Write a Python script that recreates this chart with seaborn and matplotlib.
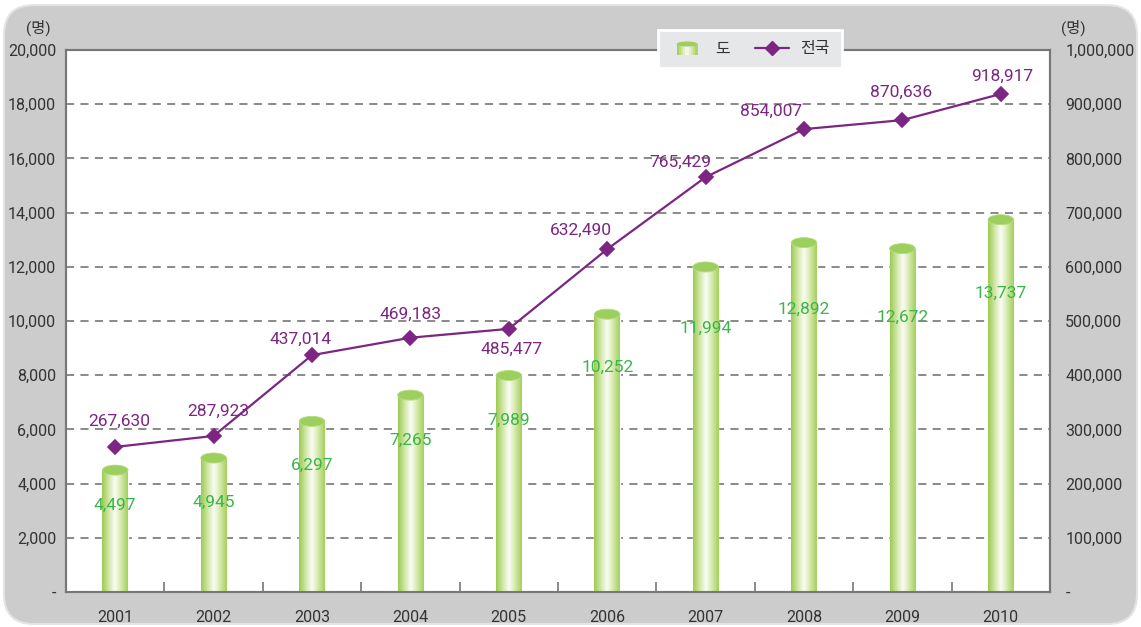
import numpy as np
import pandas as pd
import matplotlib
matplotlib.use("Agg")
import matplotlib.pyplot as plt
import seaborn as sns
from matplotlib.colors import LinearSegmentedColormap
from matplotlib.patches import Ellipse, Rectangle, FancyBboxPatch
from matplotlib.lines import Line2D
from matplotlib.legend_handler import HandlerBase
from matplotlib.ticker import FuncFormatter, MultipleLocator, FixedLocator

# data
years = ['2001', '2002', '2003', '2004', '2005', '2006', '2007', '2008', '2009', '2010']
province = [4497, 4945, 6297, 7265, 7989, 10252, 11994, 12892, 12672, 13737]
national = [267630, 287923, 437014, 469183, 485477, 632490, 765429, 854007, 870636, 918917]

# label placement (pixels)
bar_label_dy = [-35, -44, -44, -45, -45, -53, -61, -67, -69, -74]
line_label_dx = [4, 5, -11, 0, 3, -26, -25, -33, -1, 1]
line_label_dy = [26, 25, 16, 23, -20, 19, 15, 18, 28, 18]

df = pd.DataFrame({'year': years, 'province': province, 'national': national})

sns.set_style('white')
plt.rcParams['font.family'] = ['Roboto', 'Noto Sans CJK KR', 'DejaVu Sans']

green = '#3bb54a'
purple = '#7c2582'
grid_gray = '#808080'
cyl = LinearSegmentedColormap.from_list(
    'cyl', ['#9ccb52', '#cfe6a4', '#fbfdf5', '#d2e8a8', '#a5d05c'],
)
grad = np.linspace(0, 1, 64).reshape(1, -1)

fig = plt.figure(figsize=(11.41, 6.27), dpi=100, facecolor='white')

# rounded grey frame
bg = FancyBboxPatch((0.0035, 0.0048), 0.993, 0.987, transform=fig.transFigure,
                    boxstyle='round,pad=0,rounding_size=0.026',
                    mutation_aspect=1141 / 627,
                    facecolor='#cccccc', edgecolor='#e4e4e4', lw=1.5, zorder=-10)
fig.add_artist(bg)

ax = fig.add_axes([66 / 1141, 1 - 592 / 627, (1050 - 66) / 1141, (592 - 50) / 627])
ax.set_facecolor('white')
ax2 = ax.twinx()

bar_w = 0.26
sns.barplot(data=df, x='year', y='province', order=years, color='#a8d160',
            width=bar_w, ax=ax, zorder=2)

# cylinder look: gradient clipped to each bar plus an elliptic top
ell_h = 370
for p in ax.patches:
    x0, w, h = p.get_x(), p.get_width(), p.get_height()
    im = ax.imshow(grad, cmap=cyl, extent=[x0, x0 + w, 0, h], aspect='auto',
                   zorder=3, interpolation='bicubic')
    im.set_clip_path(p)
    ax.add_patch(Ellipse((x0 + w / 2, h), w, ell_h, facecolor='#9dcf5e',
                         edgecolor='#b5dc80', lw=0.6, zorder=4))

for i, v in enumerate(province):
    ax.annotate(f'{v:,}', (i, v), xytext=(0, bar_label_dy[i]),
                textcoords='offset pixels', ha='center', va='center',
                color=green, fontsize=12.5, zorder=6)

sns.pointplot(data=df, x='year', y='national', order=years, color=purple,
              markers='D', markersize=7, linewidth=1.6, ax=ax2)

for i, v in enumerate(national):
    ax2.annotate(f'{v:,}', (i, v), xytext=(line_label_dx[i], line_label_dy[i]),
                 textcoords='offset pixels', ha='center', va='center',
                 color=purple, fontsize=12.5)

fmt = FuncFormatter(lambda v, pos: '-' if v == 0 else f'{v:,.0f}')

ax.set_ylim(0, 20000)
ax2.set_ylim(0, 1000000)
ax.set_xlim(-0.5, len(years) - 0.5)
ax.yaxis.set_major_locator(MultipleLocator(2000))
ax2.yaxis.set_major_locator(MultipleLocator(100000))
ax.yaxis.set_major_formatter(fmt)
ax2.yaxis.set_major_formatter(fmt)

ax.set_xticks(range(len(years)))
ax.set_xticklabels(years)
ax.xaxis.set_minor_locator(FixedLocator(np.arange(0.5, len(years) - 1, 1.0)))
ax.tick_params(axis='x', which='major', length=0, pad=13, labelsize=11.5,
               labelcolor='#333333')
ax.tick_params(axis='x', which='minor', direction='in', length=7, width=1.3,
               color=grid_gray, bottom=True)
ax.tick_params(axis='y', length=0, pad=7, labelsize=11.5, labelcolor='#333333')
ax2.tick_params(axis='y', length=0, pad=11, labelsize=11.5, labelcolor='#333333')

ax.yaxis.grid(True, linestyle=(0, (4.5, 3.5)), color=grid_gray, lw=1.3)
ax.xaxis.grid(False)
ax2.grid(False)
ax.set_axisbelow(True)
ax.set_xlabel('')
ax.set_ylabel('')
ax2.set_xlabel('')
ax2.set_ylabel('')

for a in (ax, ax2):
    for s in a.spines.values():
        s.set_visible(True)
        s.set_color('#777777')
        s.set_linewidth(1.5)

fig.text(38 / 1141, 1 - 28 / 627, '(명)', ha='center', va='center',
         fontsize=11, color='#333333')
fig.text(1073 / 1141, 1 - 28 / 627, '(명)', ha='center', va='center',
         fontsize=11, color='#333333')


class CylinderHandler(HandlerBase):
    def create_artists(self, legend, orig_handle, xdescent, ydescent,
                       width, height, fontsize, trans):
        arts = []
        w = width * 0.62
        x0 = -xdescent + (width - w) / 2
        y0 = -ydescent - height * 0.1
        hh = height * 0.95
        n = 10
        for k in range(n):
            arts.append(Rectangle((x0 + k * w / n, y0), w / n + 0.3, hh,
                                  facecolor=cyl((k + 0.5) / n), lw=0,
                                  transform=trans))
        arts.append(Ellipse((x0 + w / 2, y0 + hh), w, height * 0.45,
                            facecolor='#9dcf5e', lw=0, transform=trans))
        return arts


handles = [Rectangle((0, 0), 1, 1),
           Line2D([], [], color=purple, lw=1.6, marker='D', markersize=7)]
leg = fig.legend(handles, ['도', '전국'], loc='center',
                 bbox_to_anchor=(750 / 1141, 1 - 49 / 627), ncol=2,
                 handler_map={Rectangle: CylinderHandler()},
                 frameon=True, fancybox=False, facecolor='#e6e7e8',
                 edgecolor='white', framealpha=1, fontsize=11.5,
                 borderpad=0.75, borderaxespad=0, handlelength=2.1,
                 handletextpad=0.7, columnspacing=1.6)
leg.get_frame().set_linewidth(2)
leg._legend_box.sep = 0
for t in leg.get_texts():
    t.set_color('#333333')

fig.savefig('out.png', dpi=100, facecolor=fig.get_facecolor())
